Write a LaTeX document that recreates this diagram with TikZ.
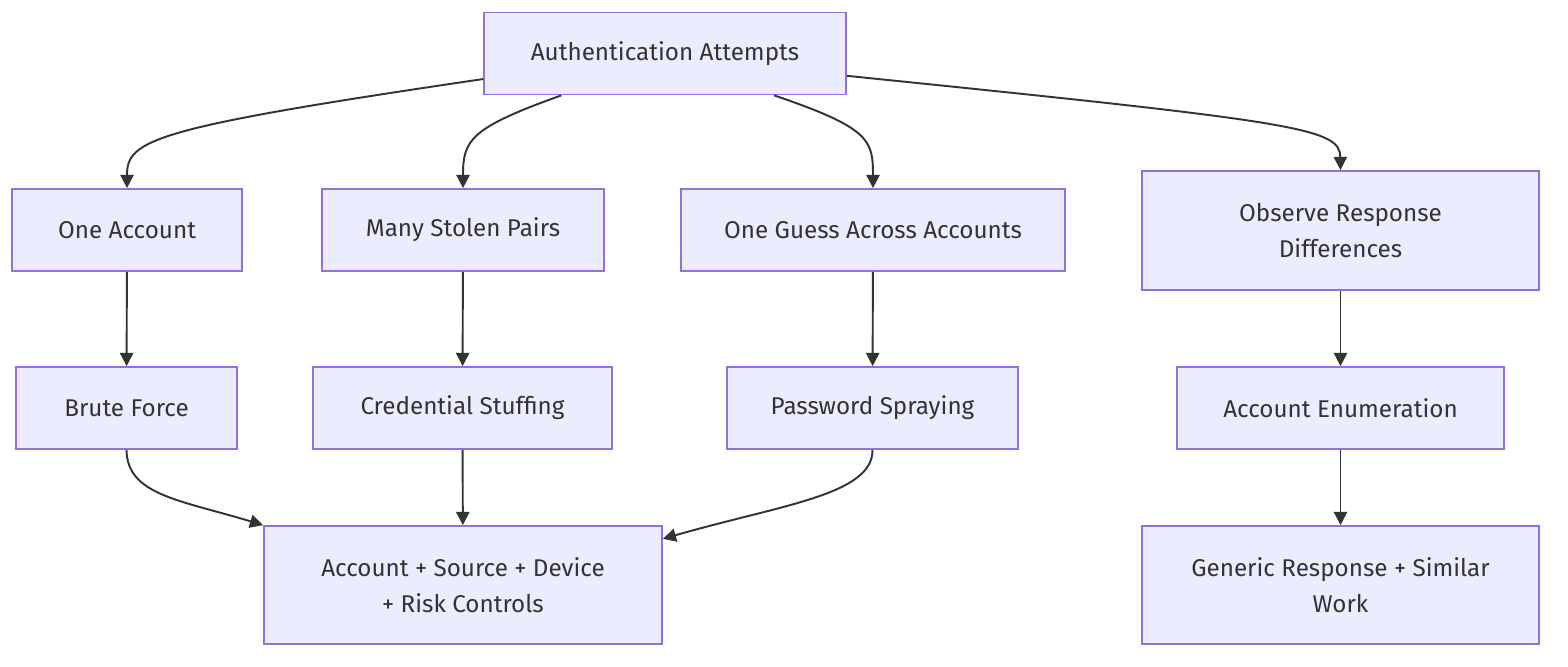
\documentclass[tikz,border=0pt]{standalone}
\usepackage{fontspec}
\setmainfont{Fira Sans}
\usepackage{xcolor}
\usetikzlibrary{arrows.meta, positioning}
\definecolor{boxfill}{HTML}{ECECFF}
\definecolor{boxline}{HTML}{9370DB}
\definecolor{edgegray}{HTML}{333333}

\begin{document}
\begin{tikzpicture}[x=0.02cm, y=-0.02cm,
  block/.style={rectangle, draw=boxline, fill=boxfill, line width=1pt, minimum height=82*0.02cm, font=\fontsize{13.8}{20.5}\selectfont, text=edgegray, align=center, inner sep=0pt},
  arrow/.style={-{Triangle[length=7.5pt, width=7.5pt]}, line width=1.1pt, draw=edgegray}]

\useasboundingbox (0,0) rectangle (1568,666);

\node[block, minimum width=362*0.02cm] (auth) at (665,53.5) {Authentication Attempts};
\node[block, minimum width=230*0.02cm] (one) at (127,230) {One Account};
\node[block, minimum width=282*0.02cm] (many) at (463,230) {Many Stolen Pairs};
\node[block, minimum width=384*0.02cm] (guess) at (873,230) {One Guess Across Accounts};
\node[block, minimum width=397*0.02cm, minimum height=119*0.02cm] (obs) at (1340.5,230.5) {Observe Response\\ Differences};
\node[block, minimum width=221*0.02cm] (brute) at (126.5,408) {Brute Force};
\node[block, minimum width=299*0.02cm] (cred) at (462.5,408) {Credential Stuffing};
\node[block, minimum width=291*0.02cm] (spray) at (872.5,408) {Password Spraying};
\node[block, minimum width=327*0.02cm] (enum) at (1340.5,408) {Account Enumeration};
\node[block, minimum width=398*0.02cm, minimum height=118*0.02cm] (ctrl) at (463,585) {Account + Source + Device\\ + Risk Controls};
\node[block, minimum width=397*0.02cm, minimum height=118*0.02cm] (generic) at (1340.5,585) {Generic Response + Similar\\ Work};

\draw[arrow] (auth.188) .. controls (150,128) and (127,140) .. (one.north);
\draw[arrow] (auth.202) .. controls (470,128) and (463,140) .. (many.north);
\draw[arrow] (auth.339) .. controls (870,128) and (873,140) .. (guess.north);
\draw[arrow] (auth.353.5) .. controls (1300,122) and (1340,128) .. (obs.north);
\draw[arrow] (one) -- (brute);
\draw[arrow] (many) -- (cred);
\draw[arrow] (guess) -- (spray);
\draw[arrow] (obs) -- (enum);
\draw[arrow] (brute.south) .. controls (127,495) and (180,500) .. (ctrl.north west);
\draw[arrow] (cred) -- (ctrl);
\draw[arrow] (spray.south) .. controls (873,495) and (780,505) .. (ctrl.13);
\draw[arrow] (enum) -- (generic);
\end{tikzpicture}
\end{document}
